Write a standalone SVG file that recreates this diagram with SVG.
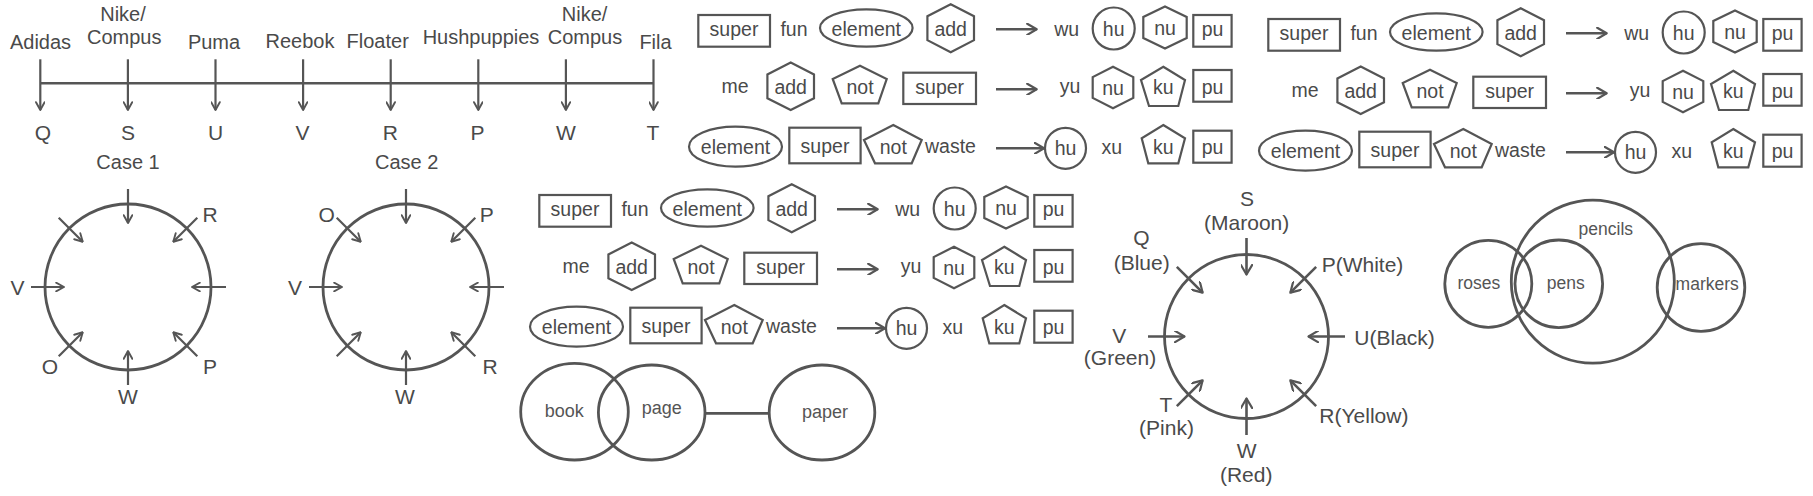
<svg xmlns="http://www.w3.org/2000/svg" width="1813" height="496" viewBox="0 0 1813 496">
<style>
.t{font-family:"Liberation Sans",Arial,sans-serif;fill:#4a4a4a;text-anchor:middle}
.l{text-anchor:start}
.f20{font-size:20px}
.f21{font-size:21px}
.fb{font-size:19.5px}
.fv{font-size:18px;fill:#555}
.s{fill:none;stroke:#555;stroke-width:2.2}
.c{fill:none;stroke:#555;stroke-width:2.8}
.ln{fill:none;stroke:#555;stroke-width:2.4}
.as{fill:none;stroke:#555;stroke-width:2.2;marker-end:url(#sm)}
.ab{fill:none;stroke:#555;stroke-width:2.6;marker-end:url(#ah)}
</style>
<defs>
<marker id="ah" viewBox="0 0 12 12" refX="10.5" refY="6" markerWidth="12" markerHeight="12" markerUnits="userSpaceOnUse" orient="auto">
<path d="M1,0.4 L10.5,6 L1,11.6" fill="none" stroke="#555" stroke-width="2.2" stroke-linejoin="round" stroke-linecap="round"/>
</marker>
<marker id="sm" viewBox="0 0 10 10" refX="9" refY="5" markerWidth="10" markerHeight="10" markerUnits="userSpaceOnUse" orient="auto">
<path d="M1.2,0.7 L9,5 L1.2,9.3" fill="none" stroke="#555" stroke-width="1.9" stroke-linejoin="round" stroke-linecap="round"/>
</marker>
</defs>

<!-- Timeline -->
<g id="timeline">
<line class="ln" x1="40.3" y1="83.3" x2="653.5" y2="83.3"/>
<g id="timeline-arrows">
<line class="as" x1="40.3" y1="59.3" x2="40.3" y2="110"/>
<line class="as" x1="127.9" y1="59.3" x2="127.9" y2="110"/>
<line class="as" x1="215.5" y1="59.3" x2="215.5" y2="110"/>
<line class="as" x1="303.1" y1="59.3" x2="303.1" y2="110"/>
<line class="as" x1="390.7" y1="59.3" x2="390.7" y2="110"/>
<line class="as" x1="478.3" y1="59.3" x2="478.3" y2="110"/>
<line class="as" x1="565.9" y1="59.3" x2="565.9" y2="110"/>
<line class="as" x1="653.5" y1="59.3" x2="653.5" y2="110"/>
</g>
<g class="t f20">
<text x="40.5" y="49">Adidas</text>
<text x="123" y="21">Nike/</text>
<text x="124.2" y="43.5">Compus</text>
<text x="214" y="48.5">Puma</text>
<text x="300" y="48">Reebok</text>
<text x="377.7" y="48">Floater</text>
<text x="481" y="44">Hushpuppies</text>
<text x="584.6" y="21">Nike/</text>
<text x="585" y="43.5">Compus</text>
<text x="655.5" y="48.5">Fila</text>
</g>
<g class="t f21">
<text x="43" y="140">Q</text>
<text x="128" y="140">S</text>
<text x="215.5" y="140">U</text>
<text x="302.5" y="140">V</text>
<text x="390.3" y="140">R</text>
<text x="477.5" y="140">P</text>
<text x="566" y="140">W</text>
<text x="653" y="140">T</text>
</g>
</g>

<!-- Case 1 -->
<g id="case1">
<text class="t f20" x="128" y="169.3">Case 1</text>
<circle class="c" cx="128" cy="287" r="83"/>
<g>
<line class="as" x1="128" y1="189" x2="128" y2="223"/>
<line class="as" x1="128" y1="385" x2="128" y2="351"/>
<line class="as" x1="31" y1="287" x2="64" y2="287"/>
<line class="as" x1="226" y1="287" x2="192" y2="287"/>
<line class="as" x1="58.7" y1="217.7" x2="82.75" y2="241.75"/>
<line class="as" x1="197.3" y1="217.7" x2="173.25" y2="241.75"/>
<line class="as" x1="58.7" y1="356.3" x2="82.75" y2="332.25"/>
<line class="as" x1="197.3" y1="356.3" x2="173.25" y2="332.25"/>
</g>
<g class="t f21">
<text x="210" y="221.5">R</text>
<text x="17.5" y="294.5">V</text>
<text x="50" y="374">O</text>
<text x="210" y="374">P</text>
<text x="128" y="404">W</text>
</g>
</g>

<!-- Case 2 -->
<g id="case2">
<text class="t f20" x="406.7" y="169.3">Case 2</text>
<circle class="c" cx="406" cy="287" r="83"/>
<g>
<line class="as" x1="406" y1="189" x2="406" y2="223"/>
<line class="as" x1="406" y1="385" x2="406" y2="351"/>
<line class="as" x1="309" y1="287" x2="342" y2="287"/>
<line class="as" x1="504" y1="287" x2="470" y2="287"/>
<line class="as" x1="336.7" y1="217.7" x2="360.75" y2="241.75"/>
<line class="as" x1="475.3" y1="217.7" x2="451.25" y2="241.75"/>
<line class="as" x1="336.7" y1="356.3" x2="360.75" y2="332.25"/>
<line class="as" x1="475.3" y1="356.3" x2="451.25" y2="332.25"/>
</g>
<g class="t f21">
<text x="326.7" y="222">O</text>
<text x="486.7" y="222">P</text>
<text x="295" y="294.5">V</text>
<text x="490" y="374">R</text>
<text x="405" y="404">W</text>
</g>
</g>

<!-- Shape block 1 -->
<g id="block1">
<g class="s">
<rect x="698.3" y="15" width="71.7" height="31.7"/>
<ellipse cx="866.3" cy="28" rx="46.3" ry="18.7"/>
<polygon points="950.7,4.2 974,16.2 974,40.2 950.7,52.2 927.4,40.2 927.4,16.2"/>
<circle cx="1113.7" cy="28.5" r="21"/>
<polygon points="1165,6.5 1186.7,17 1186.7,38 1165,48.5 1143.3,38 1143.3,17"/>
<rect x="1193.3" y="15" width="38.3" height="31.7"/>
<polygon points="790.7,62.6 814,74.5 814,98.2 790.7,110 767.4,98.2 767.4,74.5"/>
<polygon points="860,65.7 886.7,79 878.3,103.3 841.7,103.3 832.7,79"/>
<rect x="903.3" y="72.7" width="72.7" height="31.3"/>
<polygon points="1113,66.7 1133.3,77.1 1133.3,97.9 1113,108.3 1092.7,97.9 1092.7,77.1"/>
<polygon points="1163.3,66.7 1185,80 1178.3,106 1149,106 1141,80"/>
<rect x="1193.3" y="70" width="38.3" height="31.7"/>
<ellipse cx="735.5" cy="146.7" rx="46.5" ry="20"/>
<rect x="789.3" y="127.7" width="71.3" height="35.6"/>
<polygon points="893.3,125 921.7,140 911.7,163.3 875,163.3 864,140"/>
<circle cx="1065.5" cy="148.3" r="20.5"/>
<polygon points="1163.3,125 1185,138.3 1178.3,163.3 1148.3,163.3 1141.7,138.3"/>
<rect x="1193.3" y="130.7" width="38.3" height="32"/>
</g>
<g>
<line class="ab" x1="996" y1="29.3" x2="1036.7" y2="29.3"/>
<line class="ab" x1="996" y1="89.3" x2="1036.7" y2="89.3"/>
<line class="ab" x1="996" y1="148.3" x2="1044" y2="148.3"/>
</g>
<g class="t fb">
<text x="734" y="36">super</text>
<text x="794" y="36">fun</text>
<text x="866.3" y="35.5">element</text>
<text x="950.7" y="36">add</text>
<text x="1066.7" y="36">wu</text>
<text x="1113.7" y="35.5">hu</text>
<text x="1165" y="35">nu</text>
<text x="1212.5" y="36">pu</text>
<text x="735" y="93">me</text>
<text x="790.7" y="94">add</text>
<text x="860" y="94">not</text>
<text x="939.7" y="93.5">super</text>
<text x="1070" y="93">yu</text>
<text x="1113" y="95">nu</text>
<text x="1163.3" y="94">ku</text>
<text x="1212.5" y="93.5">pu</text>
<text x="735.5" y="154">element</text>
<text x="825" y="153">super</text>
<text x="893.3" y="153.5">not</text>
<text x="950.5" y="152.5">waste</text>
<text x="1065.5" y="155">hu</text>
<text x="1111.7" y="154">xu</text>
<text x="1163.3" y="153.5">ku</text>
<text x="1212.5" y="154">pu</text>
</g>
</g>

<!-- Shape block 2 -->
<g id="block2" transform="translate(570,4)">
<g class="s">
<rect x="698.3" y="15" width="71.7" height="31.7"/>
<ellipse cx="866.3" cy="28" rx="46.3" ry="18.7"/>
<polygon points="950.7,4.2 974,16.2 974,40.2 950.7,52.2 927.4,40.2 927.4,16.2"/>
<circle cx="1113.7" cy="28.5" r="21"/>
<polygon points="1165,6.5 1186.7,17 1186.7,38 1165,48.5 1143.3,38 1143.3,17"/>
<rect x="1193.3" y="15" width="38.3" height="31.7"/>
<polygon points="790.7,62.6 814,74.5 814,98.2 790.7,110 767.4,98.2 767.4,74.5"/>
<polygon points="860,65.7 886.7,79 878.3,103.3 841.7,103.3 832.7,79"/>
<rect x="903.3" y="72.7" width="72.7" height="31.3"/>
<polygon points="1113,66.7 1133.3,77.1 1133.3,97.9 1113,108.3 1092.7,97.9 1092.7,77.1"/>
<polygon points="1163.3,66.7 1185,80 1178.3,106 1149,106 1141,80"/>
<rect x="1193.3" y="70" width="38.3" height="31.7"/>
<ellipse cx="735.5" cy="146.7" rx="46.5" ry="20"/>
<rect x="789.3" y="127.7" width="71.3" height="35.6"/>
<polygon points="893.3,125 921.7,140 911.7,163.3 875,163.3 864,140"/>
<circle cx="1065.5" cy="148.3" r="20.5"/>
<polygon points="1163.3,125 1185,138.3 1178.3,163.3 1148.3,163.3 1141.7,138.3"/>
<rect x="1193.3" y="130.7" width="38.3" height="32"/>
</g>
<g>
<line class="ab" x1="996" y1="29.3" x2="1036.7" y2="29.3"/>
<line class="ab" x1="996" y1="89.3" x2="1036.7" y2="89.3"/>
<line class="ab" x1="996" y1="148.3" x2="1044" y2="148.3"/>
</g>
<g class="t fb">
<text x="734" y="36">super</text>
<text x="794" y="36">fun</text>
<text x="866.3" y="35.5">element</text>
<text x="950.7" y="36">add</text>
<text x="1066.7" y="36">wu</text>
<text x="1113.7" y="35.5">hu</text>
<text x="1165" y="35">nu</text>
<text x="1212.5" y="36">pu</text>
<text x="735" y="93">me</text>
<text x="790.7" y="94">add</text>
<text x="860" y="94">not</text>
<text x="939.7" y="93.5">super</text>
<text x="1070" y="93">yu</text>
<text x="1113" y="95">nu</text>
<text x="1163.3" y="94">ku</text>
<text x="1212.5" y="93.5">pu</text>
<text x="735.5" y="154">element</text>
<text x="825" y="153">super</text>
<text x="893.3" y="153.5">not</text>
<text x="950.5" y="152.5">waste</text>
<text x="1065.5" y="155">hu</text>
<text x="1111.7" y="154">xu</text>
<text x="1163.3" y="153.5">ku</text>
<text x="1212.5" y="154">pu</text>
</g>
</g>

<!-- Shape block 3 -->
<g id="block3" transform="translate(-159,180)">
<g class="s">
<rect x="698.3" y="15" width="71.7" height="31.7"/>
<ellipse cx="866.3" cy="28" rx="46.3" ry="18.7"/>
<polygon points="950.7,4.2 974,16.2 974,40.2 950.7,52.2 927.4,40.2 927.4,16.2"/>
<circle cx="1113.7" cy="28.5" r="21"/>
<polygon points="1165,6.5 1186.7,17 1186.7,38 1165,48.5 1143.3,38 1143.3,17"/>
<rect x="1193.3" y="15" width="38.3" height="31.7"/>
<polygon points="790.7,62.6 814,74.5 814,98.2 790.7,110 767.4,98.2 767.4,74.5"/>
<polygon points="860,65.7 886.7,79 878.3,103.3 841.7,103.3 832.7,79"/>
<rect x="903.3" y="72.7" width="72.7" height="31.3"/>
<polygon points="1113,66.7 1133.3,77.1 1133.3,97.9 1113,108.3 1092.7,97.9 1092.7,77.1"/>
<polygon points="1163.3,66.7 1185,80 1178.3,106 1149,106 1141,80"/>
<rect x="1193.3" y="70" width="38.3" height="31.7"/>
<ellipse cx="735.5" cy="146.7" rx="46.5" ry="20"/>
<rect x="789.3" y="127.7" width="71.3" height="35.6"/>
<polygon points="893.3,125 921.7,140 911.7,163.3 875,163.3 864,140"/>
<circle cx="1065.5" cy="148.3" r="20.5"/>
<polygon points="1163.3,125 1185,138.3 1178.3,163.3 1148.3,163.3 1141.7,138.3"/>
<rect x="1193.3" y="130.7" width="38.3" height="32"/>
</g>
<g>
<line class="ab" x1="996" y1="29.3" x2="1036.7" y2="29.3"/>
<line class="ab" x1="996" y1="89.3" x2="1036.7" y2="89.3"/>
<line class="ab" x1="996" y1="148.3" x2="1044" y2="148.3"/>
</g>
<g class="t fb">
<text x="734" y="36">super</text>
<text x="794" y="36">fun</text>
<text x="866.3" y="35.5">element</text>
<text x="950.7" y="36">add</text>
<text x="1066.7" y="36">wu</text>
<text x="1113.7" y="35.5">hu</text>
<text x="1165" y="35">nu</text>
<text x="1212.5" y="36">pu</text>
<text x="735" y="93">me</text>
<text x="790.7" y="94">add</text>
<text x="860" y="94">not</text>
<text x="939.7" y="93.5">super</text>
<text x="1070" y="93">yu</text>
<text x="1113" y="95">nu</text>
<text x="1163.3" y="94">ku</text>
<text x="1212.5" y="93.5">pu</text>
<text x="735.5" y="154">element</text>
<text x="825" y="153">super</text>
<text x="893.3" y="153.5">not</text>
<text x="950.5" y="152.5">waste</text>
<text x="1065.5" y="155">hu</text>
<text x="1111.7" y="154">xu</text>
<text x="1163.3" y="153.5">ku</text>
<text x="1212.5" y="154">pu</text>
</g>
</g>

<!-- Venn: book / page / paper -->
<g id="venn-book">
<ellipse class="c" cx="574.5" cy="411.7" rx="53.8" ry="48.3"/>
<ellipse class="c" cx="651.7" cy="412.5" rx="53.3" ry="47.5"/>
<ellipse class="c" cx="822" cy="412.5" rx="52.8" ry="47.5"/>
<line class="c" x1="705" y1="413.3" x2="769.2" y2="413.3"/>
<g class="t fv">
<text x="564.2" y="417">book</text>
<text x="661.7" y="413.5">page</text>
<text x="825" y="418">paper</text>
</g>
</g>

<!-- Colour circle -->
<g id="colour-circle">
<circle class="c" cx="1246.5" cy="336.5" r="82"/>
<g>
<line class="ab" x1="1246.5" y1="238" x2="1246.5" y2="274.5"/>
<line class="ab" x1="1246.5" y1="435" x2="1246.5" y2="398.5"/>
<line class="ab" x1="1148" y1="336.5" x2="1184.5" y2="336.5"/>
<line class="ab" x1="1345" y1="336.5" x2="1308.5" y2="336.5"/>
<line class="ab" x1="1176.85" y1="266.85" x2="1202.66" y2="292.66"/>
<line class="ab" x1="1316.15" y1="266.85" x2="1290.34" y2="292.66"/>
<line class="ab" x1="1176.85" y1="406.15" x2="1202.66" y2="380.34"/>
<line class="ab" x1="1316.15" y1="406.15" x2="1290.34" y2="380.34"/>
</g>
<g class="t f21">
<text x="1247" y="205.5">S</text>
<text x="1246.7" y="230">(Maroon)</text>
<text x="1141.3" y="244.5">Q</text>
<text x="1141.7" y="269.5">(Blue)</text>
<text class="l" x="1321.7" y="271.7">P(White)</text>
<text x="1119.3" y="343.3">V</text>
<text x="1120" y="365">(Green)</text>
<text class="l" x="1354.3" y="345">U(Black)</text>
<text x="1166" y="411.7">T</text>
<text x="1166.5" y="435">(Pink)</text>
<text class="l" x="1319.3" y="423.3">R(Yellow)</text>
<text x="1246.7" y="458.3">W</text>
<text x="1246.2" y="481.7">(Red)</text>
</g>
</g>

<!-- Venn: roses / pencils / pens / markers -->
<g id="venn-pencils">
<circle class="c" cx="1488.3" cy="283.8" r="43.5"/>
<circle class="c" cx="1592.8" cy="281.7" r="81.5"/>
<circle class="c" cx="1558.8" cy="283.8" r="43.8"/>
<circle class="c" cx="1701" cy="287.5" r="43.8"/>
<g class="t fv" style="font-size:17.5px">
<text x="1605.8" y="235">pencils</text>
<text x="1478.8" y="289">roses</text>
<text x="1565.8" y="288.5">pens</text>
<text x="1707.2" y="290">markers</text>
</g>
</g>
</svg>
